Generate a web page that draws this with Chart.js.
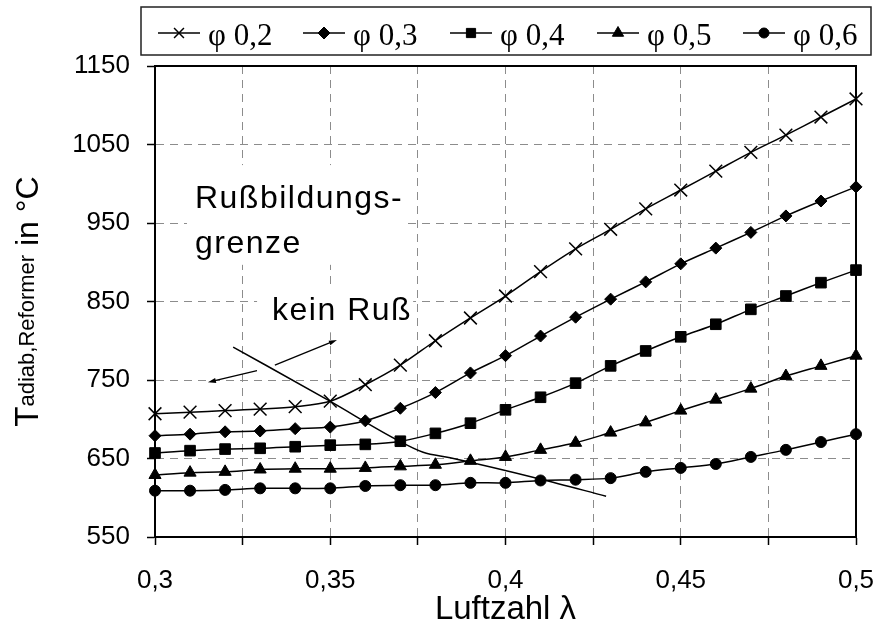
<!DOCTYPE html>
<html lang="de">
<head>
<meta charset="utf-8">
<title>Adiabate Reformertemperatur</title>
<script src="https://cdn.jsdelivr.net/npm/chart.js"></script>
<style>
  html, body { margin: 0; padding: 0; background: #fff; }
  #wrap { width: 879px; height: 631px; }
</style>
</head>
<body>
<div id="wrap"><canvas id="tempChart" width="879" height="631"></canvas></div>
<script>
// ===== DATEN =====
const luftzahl = [0.30, 0.31, 0.32, 0.33, 0.34, 0.35, 0.36, 0.37, 0.38, 0.39, 0.40,
                  0.41, 0.42, 0.43, 0.44, 0.45, 0.46, 0.47, 0.48, 0.49, 0.50];

const phi02 = [707, 709, 711, 713, 716, 723, 744, 769, 800, 829, 857, 888, 917, 942, 968, 992, 1016, 1040, 1062, 1085, 1108];
const phi03 = [679, 681, 684, 685, 688, 690, 698, 714, 734, 759, 781, 806, 830, 853, 875, 898, 918, 938, 959, 978, 996];
const phi04 = [657, 660, 662, 663, 665, 667, 668, 672, 682, 695, 712, 728, 746, 768, 787, 805, 821, 840, 857, 874, 890];
const phi05 = [629, 632, 633, 636, 637, 637, 638, 640, 642, 647, 652, 661, 670, 683, 696, 711, 725, 739, 755, 768, 781];
const phi06 = [609, 609, 610, 612, 612, 612, 615, 616, 616, 619, 619, 622, 623, 625, 633, 638, 643, 652, 661, 671, 681];

const reihenNamen = ["φ 0,2", "φ 0,3", "φ 0,4", "φ 0,5", "φ 0,6"];
const reihenWerte = [phi02, phi03, phi04, phi05, phi06];

// Rußbildungsgrenze
const grenzeLambda = [0.3223, 0.3499, 0.3685, 0.3765, 0.3842, 0.4098, 0.4287];
const grenzeTemp = [792, 723, 675, 658, 651, 624, 602];

// Pfeile: [lambda, T] Start -> Spitze
const pfeilStart = [[0.3342, 769], [0.3291, 762]];
const pfeilEnde = [[0.3519, 801], [0.3151, 747]];

// Achsen
const xTickWerte = [0.3, 0.35, 0.4, 0.45, 0.5];
const xTickLabels = ["0,3", "0,35", "0,4", "0,45", "0,5"];
const yTickWerte = [550, 650, 750, 850, 950, 1050, 1150];

// ===== STIL =====
const punktStile = ["crossRot", "rectRot", "rect", "triangle", "circle"];
const punktRadien = [9, 6, 7.5, 7, 5.5];
const legendeRadien = [7, 6, 6.5, 6.5, 5];
const SANS = "'Liberation Sans', Arial, sans-serif";
const SERIF = "'Liberation Serif', 'Times New Roman', serif";

// Marker für die Legende von Hand zeichnen
function drawMarker(ctx, style, x, y, r) {
  ctx.beginPath();
  if (style === "crossRot") {
    const d = r * Math.SQRT1_2;
    ctx.moveTo(x - d, y - d); ctx.lineTo(x + d, y + d);
    ctx.moveTo(x + d, y - d); ctx.lineTo(x - d, y + d);
    ctx.stroke();
    return;
  }
  if (style === "rectRot") {
    ctx.moveTo(x - r, y); ctx.lineTo(x, y - r); ctx.lineTo(x + r, y); ctx.lineTo(x, y + r);
    ctx.closePath();
  } else if (style === "rect") {
    const s = r * Math.SQRT1_2;
    ctx.rect(x - s, y - s, 2 * s, 2 * s);
  } else if (style === "triangle") {
    ctx.moveTo(x, y - r);
    ctx.lineTo(x + r * 0.866, y + r / 2);
    ctx.lineTo(x - r * 0.866, y + r / 2);
    ctx.closePath();
  } else {
    ctx.arc(x, y, r, 0, Math.PI * 2);
  }
  ctx.fill();
  ctx.stroke();
}

// Legende mit Rahmen oben
const legendePlugin = {
  id: "legendeBox",
  afterDraw(chart) {
    const ctx = chart.ctx;
    const startX = [158, 303, 450, 597, 743];
    ctx.save();
    ctx.strokeStyle = "#222";
    ctx.lineWidth = 1.5;
    ctx.strokeRect(141, 7, 730, 48);
    ctx.fillStyle = "#000";
    ctx.strokeStyle = "#000";
    reihenNamen.forEach((name, i) => {
      const x = startX[i];
      ctx.lineWidth = 1.5;
      ctx.beginPath();
      ctx.moveTo(x, 33);
      ctx.lineTo(x + 42, 33);
      ctx.stroke();
      ctx.lineWidth = i === 0 ? 1.5 : 1;
      drawMarker(ctx, punktStile[i], x + 21, 33, legendeRadien[i]);
      ctx.font = "31px " + SERIF;
      ctx.textBaseline = "alphabetic";
      ctx.textAlign = "left";
      ctx.fillText(name, x + 50, 45);
    });
    ctx.restore();
  },
};

// Rahmen, Textfelder und Pfeile im Diagramm
const diagrammPlugin = {
  id: "diagrammExtras",
  beforeDatasetsDraw(chart) {
    const {ctx, chartArea: a, scales} = chart;
    const xs = scales.x, ys = scales.y;
    ctx.save();
    ctx.strokeStyle = "#000";
    ctx.lineWidth = 2;
    ctx.strokeRect(a.left, a.top, a.right - a.left, a.bottom - a.top);

    ctx.font = "32px " + SANS;
    ctx.letterSpacing = "1.5px";
    ctx.textAlign = "left";
    ctx.textBaseline = "alphabetic";

    // Beschriftung Rußbildungsgrenze
    const tx = xs.getPixelForValue(0.3114);
    const ty1 = ys.getPixelForValue(969);
    const ty2 = ys.getPixelForValue(912);
    const w1 = ctx.measureText("Rußbildungs-").width;
    ctx.fillStyle = "#fff";
    ctx.fillRect(tx - 8, ty1 - 43, w1 + 12, ty2 - ty1 + 55);
    ctx.fillStyle = "#000";
    ctx.fillText("Rußbildungs-", tx, ty1);
    ctx.fillText("grenze", tx, ty2);

    // Beschriftung kein Ruß
    const kx = xs.getPixelForValue(0.3334);
    const ky = ys.getPixelForValue(826);
    const w2 = ctx.measureText("kein Ruß").width;
    ctx.fillStyle = "#fff";
    ctx.fillRect(kx - 15, ky - 32, w2 + 16, 44);
    ctx.fillStyle = "#000";
    ctx.fillText("kein Ruß", kx, ky);
    ctx.restore();
  },
  afterDatasetsDraw(chart) {
    const {ctx, scales} = chart;
    const xs = scales.x, ys = scales.y;
    ctx.save();
    ctx.strokeStyle = "#000";
    ctx.fillStyle = "#000";
    ctx.lineWidth = 1.3;
    pfeilStart.forEach((s, i) => {
      const e = pfeilEnde[i];
      const x0 = xs.getPixelForValue(s[0]), y0 = ys.getPixelForValue(s[1]);
      const x1 = xs.getPixelForValue(e[0]), y1 = ys.getPixelForValue(e[1]);
      const ang = Math.atan2(y1 - y0, x1 - x0);
      ctx.beginPath();
      ctx.moveTo(x0, y0);
      ctx.lineTo(x1 - 6 * Math.cos(ang), y1 - 6 * Math.sin(ang));
      ctx.stroke();
      ctx.beginPath();
      ctx.moveTo(x1, y1);
      ctx.lineTo(x1 - 8 * Math.cos(ang) + 2.5 * Math.sin(ang), y1 - 8 * Math.sin(ang) - 2.5 * Math.cos(ang));
      ctx.lineTo(x1 - 8 * Math.cos(ang) - 2.5 * Math.sin(ang), y1 - 8 * Math.sin(ang) + 2.5 * Math.cos(ang));
      ctx.closePath();
      ctx.fill();
    });
    ctx.restore();
  },
  afterDraw(chart) {
    // Y-Achsentitel mit Tiefstellung
    const {ctx, chartArea: a} = chart;
    const teile = [
      {text: "T", size: 33, dy: 0},
      {text: "adiab,Reformer", size: 22, dy: -4},
      {text: " in °C", size: 32, dy: 0},
    ];
    ctx.save();
    let gesamt = 0;
    teile.forEach((t) => {
      ctx.font = t.size + "px " + SANS;
      t.w = ctx.measureText(t.text).width;
      gesamt += t.w;
    });
    ctx.translate(38, (a.top + a.bottom) / 2 + gesamt / 2);
    ctx.rotate(-Math.PI / 2);
    ctx.fillStyle = "#000";
    ctx.textAlign = "left";
    ctx.textBaseline = "alphabetic";
    let pos = 0;
    teile.forEach((t) => {
      ctx.font = t.size + "px " + SANS;
      ctx.fillText(t.text, pos, t.dy);
      pos += t.w;
    });
    ctx.restore();
  },
};

function buildDatasets() {
  const sets = reihenWerte.map((werte, i) => ({
    label: reihenNamen[i],
    data: luftzahl.map((x, j) => ({x: x, y: werte[j]})),
    borderColor: "#000",
    backgroundColor: "#000",
    borderWidth: 1.5,
    pointStyle: punktStile[i],
    pointRadius: punktRadien[i],
    pointBorderWidth: i === 0 ? 1.5 : 1,
    pointBorderColor: "#000",
    pointBackgroundColor: "#000",
    tension: 0.3,
    clip: false,
  }));
  sets.push({
    label: "Rußbildungsgrenze",
    data: grenzeLambda.map((x, j) => ({x: x, y: grenzeTemp[j]})),
    borderColor: "#000",
    borderWidth: 1.5,
    pointRadius: 0,
    cubicInterpolationMode: "monotone",
    clip: false,
  });
  return sets;
}

function initTempChart() {
  const ctx = document.getElementById("tempChart").getContext("2d");
  const gridGrau = "#8c8c8c";
  new Chart(ctx, {
    type: "line",
    data: {datasets: buildDatasets()},
    plugins: [diagrammPlugin, legendePlugin],
    options: {
      responsive: false,
      animation: false,
      devicePixelRatio: 1,
      layout: {padding: {top: 66, right: 23, bottom: 0, left: 0}},
      plugins: {legend: {display: false}, tooltip: {enabled: false}},
      scales: {
        x: {
          type: "linear",
          min: 0.3,
          max: 0.5,
          afterFit: (scale) => {
            scale.height = 94;
            // Labelpolster nicht in die Breite rechnen
            scale.paddingLeft = 0;
            scale.paddingRight = 0;
          },
          ticks: {
            stepSize: 0.025,
            autoSkip: false,
            maxRotation: 0,
            padding: 20,
            color: "#000",
            font: {family: SANS, size: 26},
            callback: function (value) {
              const idx = xTickWerte.findIndex((v) => Math.abs(v - value) < 1e-6);
              return idx >= 0 ? xTickLabels[idx] : "";
            },
          },
          grid: {color: gridGrau, lineWidth: 1, tickColor: "#000", tickLength: 8, tickWidth: 1.5, borderDash: [8, 6]},
          border: {color: "#000", width: 2, dash: [8, 6]},
          title: {display: true, text: "Luftzahl λ", color: "#000", font: {family: SANS, size: 33}, padding: {top: 0, bottom: 1}},
        },
        y: {
          min: 550,
          max: 1150,
          afterFit: (scale) => { scale.width = 155; },
          afterBuildTicks: (scale) => { scale.ticks = yTickWerte.map((v) => ({value: v})); },
          ticks: {
            padding: 17,
            color: "#000",
            font: {family: SANS, size: 26},
            callback: (value) => String(value),
          },
          grid: {color: gridGrau, lineWidth: 1, tickColor: "#000", tickLength: 8, tickWidth: 1.5, borderDash: [8, 6]},
          border: {color: "#000", width: 2, dash: [8, 6]},
        },
      },
    },
  });
}

document.addEventListener("DOMContentLoaded", function () {
  if (typeof Chart !== "undefined") {
    initTempChart();
  }
});
</script>
</body>
</html>
